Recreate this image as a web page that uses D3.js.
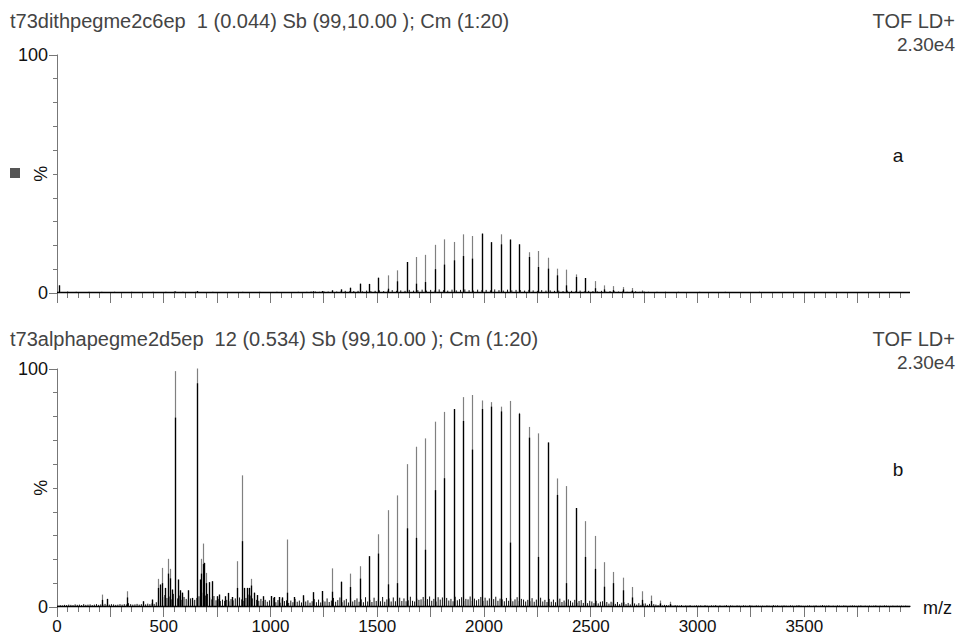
<!DOCTYPE html>
<html><head><meta charset="utf-8">
<script src="https://cdn.jsdelivr.net/npm/d3@7"></script>
<style>body{margin:0;background:#fff}svg{display:block}text{font-family:"Liberation Sans",Arial,sans-serif}</style>
</head><body><svg id="c" width="961" height="637"></svg>
<script>
// ---------- data ----------
const titleA = "t73dithpegme2c6ep  1 (0.044) Sb (99,10.00 ); Cm (1:20)";
const titleB = "t73alphapegme2d5ep  12 (0.534) Sb (99,10.00 ); Cm (1:20)";
const instrument = "TOF LD+";
const maxIntensity = "2.30e4";
const panelLetters = ["a", "b"];
const xTickLabels = [0, 500, 1000, 1500, 2000, 2500, 3000, 3500];
const yTickLabels = [0, 100];
const xAxisTitle = "m/z";
const yAxisTitle = "%";

// panel a: PEG series
const mzA = [1200,1244,1288,1332,1376,1420,1464,1508,1552,1596,1640,1684,1728,1772,1816,1860,1904,1948,1992,2036,2080,2124,2168,2212,2256,2300,2344,2388,2432,2476,2520,2564,2608,2652,2696,2740];
const intA = [0.7,0.8,1.1,1.5,2.2,3.9,3.8,6.4,7.4,9.5,13,15.1,16,20.2,22.5,21.4,24.6,23.9,24.9,21.3,24.6,22.4,20.4,17.1,17.6,14.8,10.2,9.8,7.8,6.3,5,3.2,2.9,2.5,2.1,1.1];
const darkA = [0.7,0.8,1.1,1.5,2.2,3.9,3.8,6.4,1.8,4.9,13,3.9,4.6,10,11.9,13.7,15.5,14.4,24.9,21.3,20.4,22.4,20.4,15.1,10.9,10.2,7.4,3.2,6.7,6.3,2,1.5,1.2,1.5,1,0.6];
const mzA2 = [10, 556, 659];
const intA2 = [3.2, 0.6, 0.8];
const noiseStepA = 20;
const noiseA = [
0.5,0.4,0.6,0.4,0.5,0.3,0.4,0.5,0.3,0.4,0.5,0.4,0.3,0.5,0.4,0.3,0.4,0.5,0.3,0.4,
0.4,0.3,0.5,0.4,0.3,0.5,0.4,0.6,0.4,0.5,0.4,0.3,0.5,0.4,0.3,0.4,0.5,0.3,0.4,0.3,
0.4,0.3,0.4,0.5,0.3,0.4,0.3,0.5,0.4,0.3,0.4,0.5,0.3,0.4,0.3,0.4,0.5,0.4,0.5,0.6,
0.6,0.5,0.7,0.6,0.8,0.6,0.7,0.9,0.7,0.8,0.9,0.7,1.0,0.8,0.9,1.1,0.8,1.0,1.2,0.9,
1.1,0.9,1.3,1.0,1.2,1.4,1.0,1.3,1.1,1.5,1.2,1.0,1.4,1.1,1.3,1.5,1.2,1.0,1.4,1.2,
1.3,1.1,1.5,1.2,1.0,1.4,1.1,1.3,1.2,1.0,1.3,1.1,0.9,1.2,1.0,1.1,0.9,1.0,0.8,1.0,
0.9,0.8,1.0,0.7,0.9,0.8,0.7,0.9,0.6,0.8,0.7,0.6,0.7,0.5,0.6,0.7,0.5,0.6,0.5,0.4,
0.5,0.4,0.5,0.3,0.4,0.5,0.3,0.4,0.3,0.4,0.5,0.3,0.4,0.3,0.4,0.3,0.5,0.3,0.4,0.3,
0.4,0.3,0.4,0.3,0.5,0.3,0.4,0.3,0.4,0.3,0.4,0.3,0.3,0.4,0.3,0.4,0.3,0.3,0.4,0.3,
0.3,0.4,0.3,0.3,0.4,0.3,0.3,0.4,0.3,0.3,0.4,0.3,0.3,0.3,0.4,0.3,0.3,0.3,0.3,0.3];

// panel b: PEG series
const mzB = [1200,1244,1288,1332,1376,1420,1464,1508,1552,1596,1640,1684,1728,1772,1816,1860,1904,1948,1992,2036,2080,2124,2168,2212,2256,2300,2344,2388,2432,2476,2520,2564,2608,2652,2696,2740,2784,2828,2872];
const intB = [6.2,6.7,16.2,10.6,14,17.1,21.3,30.5,40.6,46.8,59.9,67.2,70.7,77.7,81.8,82.9,88,88.9,86.6,85.9,84,86.4,81.4,75.5,72.8,68.9,53.9,50.7,41.5,36,29.8,18.8,14.7,12.3,8.4,6.6,4.8,2.7,2.2];
const darkB = [6.2,6.7,6.4,10.6,8.4,11.9,21.3,22.4,9.5,10,33,29,24,49,54,83,78,66,83,84,82,27,81,71,21,69,47,10,41.5,21,16,8.5,10,7,4,3,2.5,1.5,1.2];
// panel b: low-mass peaks
const mzL = [214,236,330,403,448,476,486,495,507,520,532,541,554,570,580,590,615,635,656,670,679,685,690,701,712,727,750,763,790,802,823,846,868,880,891,902,912,925,938,966,1006,1020,1040,1055,1079,1112,1156];
const intL = [5.2,3.4,6.6,2.4,3.1,11.8,9.4,16.4,8,20.2,16,7.3,98.9,11.5,7,6,7,3.8,100,11.5,20.2,26.6,18.5,14.3,10.4,10.8,4.5,5.2,4.5,5.9,4.2,19.2,55.2,8,8,8,11.8,6,5,4.5,4.6,4.2,4.2,4,28.3,4.2,4.9];
const darkL = [3,3.4,4,2.4,3.1,8,9.4,10,8,14,12,7.3,79.4,11.5,7,6,7,3.8,93.8,11.5,14,18,18.5,10,10.4,10.8,4.5,5.2,4.5,5.9,4.2,8,27.6,8,8,8,9,6,5,4.5,4.6,4.2,4.2,4,6,4.2,4.9];
const noiseStepB = 10;
const noiseB = [
0.6,0.8,0.7,0.9,0.8,1.0,0.9,0.8,1.1,0.9,
1.0,0.8,1.2,0.9,1.0,1.1,0.8,1.0,1.2,0.9,
1.1,1.0,1.3,0.9,1.0,1.2,1.1,0.9,1.0,1.2,
1.0,1.2,1.1,1.6,1.2,1.0,1.1,1.3,1.0,1.2,
1.3,1.1,1.4,1.2,1.5,1.3,2.0,2.6,3.5,4.2,
5.0,3.8,4.4,3.2,5.5,4.0,3.6,4.8,3.0,4.2,
3.4,2.8,3.6,2.5,3.0,3.8,4.5,5.2,6.0,4.8,
5.5,4.0,3.2,4.6,2.8,3.4,2.5,3.1,2.6,3.0,
2.4,3.3,2.8,3.6,2.9,4.0,3.2,2.6,3.8,5.2,
4.8,3.6,4.2,3.0,2.6,3.4,2.5,3.0,2.2,2.8,
2.6,3.8,2.0,2.9,1.8,3.4,2.5,2.8,1.7,2.7,
2.0,3.4,2.2,2.7,1.9,3.6,2.3,2.8,1.8,2.4,
3.3,2.0,3.1,1.9,2.8,2.3,3.6,2.1,2.7,3.8,
2.2,2.9,4.0,2.0,2.8,3.4,1.9,3.7,2.3,2.9,
3.6,2.2,3.2,2.0,4.1,2.3,3.0,2.1,3.9,2.5,
3.1,2.4,4.2,2.2,3.2,3.6,2.3,4.0,2.4,3.1,
3.9,2.5,3.6,2.4,2.8,4.3,2.6,2.3,3.5,3.0,
3.2,4.2,2.5,3.3,4.4,2.6,3.4,2.3,4.1,3.1,
4.0,2.6,3.8,2.7,3.4,2.4,4.3,2.8,3.3,4.1,
2.6,3.4,3.2,4.4,2.5,3.5,2.8,3.3,4.2,2.6,
3.9,2.7,3.6,2.4,3.3,4.3,2.6,3.5,3.2,2.4,
3.8,2.6,3.5,2.4,3.2,4.1,2.5,3.4,3.1,2.3,
3.0,2.4,3.7,2.2,3.1,2.6,3.9,2.3,3.0,2.1,
3.4,2.2,3.1,2.0,2.8,3.5,2.1,2.7,1.9,3.2,
2.6,1.9,3.0,1.8,2.5,2.9,1.7,2.4,1.6,2.6,
2.3,1.6,2.6,1.5,2.2,2.4,1.5,2.1,1.4,2.2,
1.9,1.3,2.1,1.2,1.8,2.0,1.2,1.7,1.1,1.8,
1.5,1.0,1.6,0.9,1.4,1.5,0.9,1.3,0.8,1.2,
1.0,0.8,1.1,0.7,0.9,0.8,0.7,0.9,0.6,0.8,
0.7,0.6,0.8,0.5,0.7,0.6,0.8,0.5,0.6,0.7,
0.6,0.7,0.5,0.8,0.6,0.5,0.7,0.6,0.8,0.5,
0.7,0.5,0.6,0.8,0.5,0.7,0.6,0.5,0.7,0.6,
0.5,0.7,0.6,0.5,0.8,0.6,0.5,0.7,0.6,0.5,
0.6,0.5,0.7,0.6,0.5,0.8,0.6,0.7,0.5,0.6,
0.7,0.6,0.5,0.7,0.6,0.5,0.7,0.8,0.6,0.5,
0.5,0.6,0.7,0.5,0.6,0.7,0.5,0.6,0.8,0.6,
0.6,0.7,0.5,0.6,0.5,0.7,0.6,0.5,0.7,0.6,
0.5,0.6,0.7,0.6,0.5,0.6,0.7,0.5,0.6,0.5,
0.6,0.5,0.6,0.7,0.5,0.6,0.5,0.7,0.6,0.5,
0.5,0.6,0.5,0.6,0.5,0.6,0.5,0.6,0.5,0.5];

// ---------- drawing ----------
const svg = d3.select("#c");
const x = d3.scaleLinear().domain([0, 3995]).range([57, 910]);
const snap = v => Math.floor(v) + 0.5;
const minorTicks = d3.range(0, 3951, 50);

function zip(ms, vs) { return ms.map((m, i) => ({mz: m, v: vs[i]})); }

function panel(cfg) {
  const y = d3.scaleLinear().domain([0, 100]).range([cfg.y0, cfg.y100]);
  const g = svg.append("g");
  // titles
  g.append("text").attr("x", 10).attr("y", cfg.titleY).attr("font-size", 20).attr("fill", "#444")
    .style("white-space", "pre").text(cfg.title);
  g.append("text").attr("x", 955).attr("y", cfg.titleY).attr("font-size", 20).attr("fill", "#444")
    .attr("text-anchor", "end").text(instrument);
  g.append("text").attr("x", 955).attr("y", cfg.titleY + 23).attr("font-size", 19).attr("fill", "#444")
    .attr("text-anchor", "end").text(maxIntensity);
  g.append("text").attr("x", 898).attr("y", y(50) - 12).attr("font-size", 19).attr("fill", "#111")
    .attr("text-anchor", "middle").text(cfg.letter);

  // x ticks
  g.append("g").selectAll("line").data(minorTicks).join("line")
    .attr("x1", d => snap(x(d))).attr("x2", d => snap(x(d)))
    .attr("y1", cfg.y0).attr("y2", d => cfg.y0 + (d % 250 === 0 ? 10 : 5))
    .attr("stroke", "#777").attr("stroke-width", 1);

  // y axis
  const ya = g.append("g");
  ya.append("line").attr("x1", 57.5).attr("x2", 57.5).attr("y1", y(100)).attr("y2", y(0))
    .attr("stroke", "#777");
  ya.selectAll("line.t").data(d3.range(10, 100, 10)).join("line").attr("class", "t")
    .attr("x1", 53).attr("x2", 57.5).attr("y1", d => Math.round(y(d)) + 0.5).attr("y2", d => Math.round(y(d)) + 0.5)
    .attr("stroke", "#777");
  ya.selectAll("line.e").data(yTickLabels).join("line").attr("class", "e")
    .attr("x1", 49).attr("x2", 57.5).attr("y1", d => Math.round(y(d)) + 0.5).attr("y2", d => Math.round(y(d)) + 0.5)
    .attr("stroke", "#777");
  ya.selectAll("text").data(yTickLabels).join("text")
    .attr("x", 48).attr("y", d => y(d)).attr("dy", "0.36em").attr("text-anchor", "end")
    .attr("font-size", 18).attr("fill", "#111").text(d => d);
  g.append("text").attr("transform", `translate(47,${y(50)}) rotate(-90)`).attr("text-anchor", "middle")
    .attr("font-size", 18).attr("fill", "#111").text(yAxisTitle);

  // noise
  const noise = cfg.noise.map((v, i) => ({mz: i * cfg.noiseStep + cfg.noiseStep / 2, v}));
  g.append("g").selectAll("line").data(noise).join("line")
    .attr("x1", d => x(d.mz)).attr("x2", d => x(d.mz))
    .attr("y1", cfg.y0).attr("y2", d => y(d.v))
    .attr("stroke", "#111").attr("stroke-width", 1);
  // baseline
  g.append("line").attr("x1", x(0)).attr("x2", x(3995)).attr("y1", cfg.y0 - 0.5).attr("y2", cfg.y0 - 0.5)
    .attr("stroke", "#000").attr("stroke-width", 1.6);

  // peaks
  cfg.peaks.forEach(p => {
    const data = zip(p.mz, p.v);
    g.append("g").selectAll("line").data(data).join("line")
      .attr("x1", d => snap(x(d.mz))).attr("x2", d => snap(x(d.mz)))
      .attr("y1", cfg.y0).attr("y2", d => y(d.v))
      .attr("stroke", "#808080").attr("stroke-width", 1.2);
    if (p.dark) {
      g.append("g").selectAll("line").data(zip(p.mz, p.dark)).join("line")
        .attr("x1", d => snap(x(d.mz))).attr("x2", d => snap(x(d.mz)))
        .attr("y1", cfg.y0).attr("y2", d => y(d.v))
        .attr("stroke", "#000").attr("stroke-width", 1.3);
    }
  });
  return y;
}

panel({title: titleA, titleY: 28, letter: panelLetters[0], y0: 293, y100: 54.5,
  noise: noiseA, noiseStep: noiseStepA,
  peaks: [{mz: mzA, v: intA, dark: darkA}, {mz: mzA2, v: intA2, dark: intA2}]});
panel({title: titleB, titleY: 346, letter: panelLetters[1], y0: 607, y100: 368.5,
  noise: noiseB, noiseStep: noiseStepB,
  peaks: [{mz: mzB, v: intB, dark: darkB}, {mz: mzL, v: intL, dark: darkL}]});

// x labels
svg.append("g").selectAll("text").data(xTickLabels).join("text")
  .attr("x", d => x(d)).attr("y", 632).attr("text-anchor", "middle")
  .attr("font-size", 17).attr("fill", "#111").text(d => d);
svg.append("text").attr("x", 923).attr("y", 614).attr("font-size", 18).attr("fill", "#111").text(xAxisTitle);
// small square marker
svg.append("rect").attr("x", 10).attr("y", 168).attr("width", 10).attr("height", 10).attr("fill", "#555");
</script></body></html>
